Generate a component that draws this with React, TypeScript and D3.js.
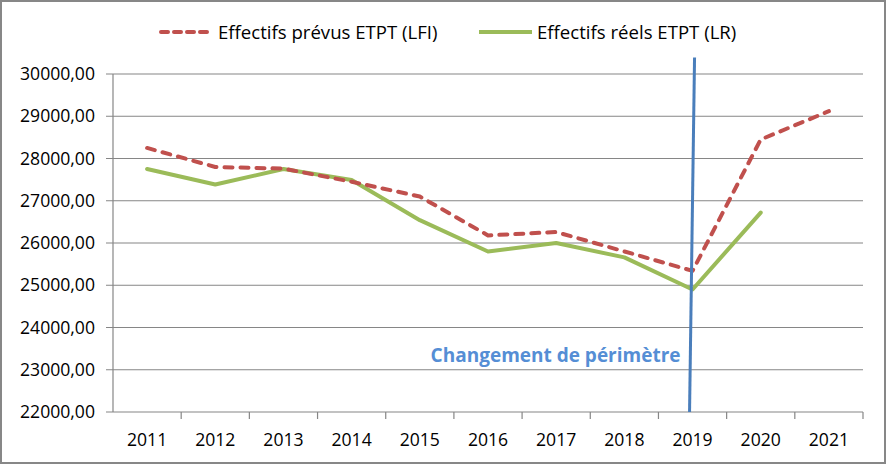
import React from "react";
import * as d3 from "d3";

const years = ["2011", "2012", "2013", "2014", "2015", "2016", "2017", "2018", "2019", "2020", "2021"];
const prevus = [28250, 27800, 27760, 27450, 27100, 26180, 26260, 25800, 25340, 28450, 29120];
const reels = [27750, 27385, 27750, 27490, 26540, 25800, 26000, 25660, 24900, 26720, null];
const yTicks = [22000, 23000, 24000, 25000, 26000, 27000, 28000, 29000, 30000];
const changeYear = "2019";
const changeLabel = "Changement de périmètre";
const legendLabels = ["Effectifs prévus ETPT (LFI)", "Effectifs réels ETPT (LR)"];

const W = 888;
const H = 466;
const margin = { top: 74, right: 25, bottom: 54, left: 113 };
const font = "'Open Sans', sans-serif";

export default function App() {
  const x = d3.scaleBand().domain(years).range([margin.left, W - margin.right]);
  const y = d3.scaleLinear().domain([22000, 30000]).range([H - margin.bottom, margin.top]);
  const cx = (d: string) => (x(d) as number) + x.bandwidth() / 2;

  const line = d3
    .line<number | null>()
    .defined((d) => d != null)
    .x((_, i) => cx(years[i]))
    .y((d) => y(d as number));

  const fmt = (v: number) => d3.format(".2f")(v).replace(".", ",");
  const bx = cx(changeYear);

  return (
    <>
      <style>{"body{margin:0}"}</style>
      <svg width={W} height={H} style={{ display: "block", fontFamily: font }}>
        <rect x={1} y={1} width={884} height={462} fill="#fff" stroke="#878787" strokeWidth={2} />

        {yTicks.map((t) => (
          <g key={t}>
            <line x1={margin.left - 7} x2={W - margin.right} y1={y(t)} y2={y(t)} stroke="#868686" strokeWidth={1.2} />
            <text x={95} y={y(t) + 6} textAnchor="end" fontSize={17.6} fill="#000">
              {fmt(t)}
            </text>
          </g>
        ))}
        <line x1={margin.left} x2={margin.left} y1={y(30000)} y2={y(22000)} stroke="#868686" strokeWidth={1.2} />

        {years.map((yr) => (
          <g key={yr}>
            <line
              x1={(x(yr) as number) + x.bandwidth()}
              x2={(x(yr) as number) + x.bandwidth()}
              y1={y(22000)}
              y2={y(22000) + 7}
              stroke="#868686"
              strokeWidth={1.2}
            />
            <text x={cx(yr)} y={446} textAnchor="middle" fontSize={17.6} fill="#000">
              {yr}
            </text>
          </g>
        ))}

        <path d={line(reels) || ""} fill="none" stroke="#9BBB59" strokeWidth={4} strokeLinejoin="round" strokeLinecap="round" />
        <path
          d={line(prevus) || ""}
          fill="none"
          stroke="#C0504D"
          strokeWidth={4}
          strokeDasharray="8 8"
          strokeLinecap="round"
          strokeLinejoin="round"
        />

        <line x1={bx + 2} y1={y(30390)} x2={bx - 3} y2={y(22000)} stroke="#4A7EBB" strokeWidth={3} />
        <text x={bx - 12} y={362} textAnchor="end" fontSize={19} fontWeight="bold" fill="#558ED5">
          {changeLabel}
        </text>

        <line x1={161} x2={213} y1={32} y2={32} stroke="#C0504D" strokeWidth={4} strokeDasharray="7 6" strokeLinecap="round" />
        <text x={218} y={38.5} fontSize={18.6} fill="#000">
          {legendLabels[0]}
        </text>
        <line x1={479} x2={532} y1={32} y2={32} stroke="#9BBB59" strokeWidth={4} />
        <text x={537} y={38.5} fontSize={18.6} fill="#000">
          {legendLabels[1]}
        </text>
      </svg>
    </>
  );
}
